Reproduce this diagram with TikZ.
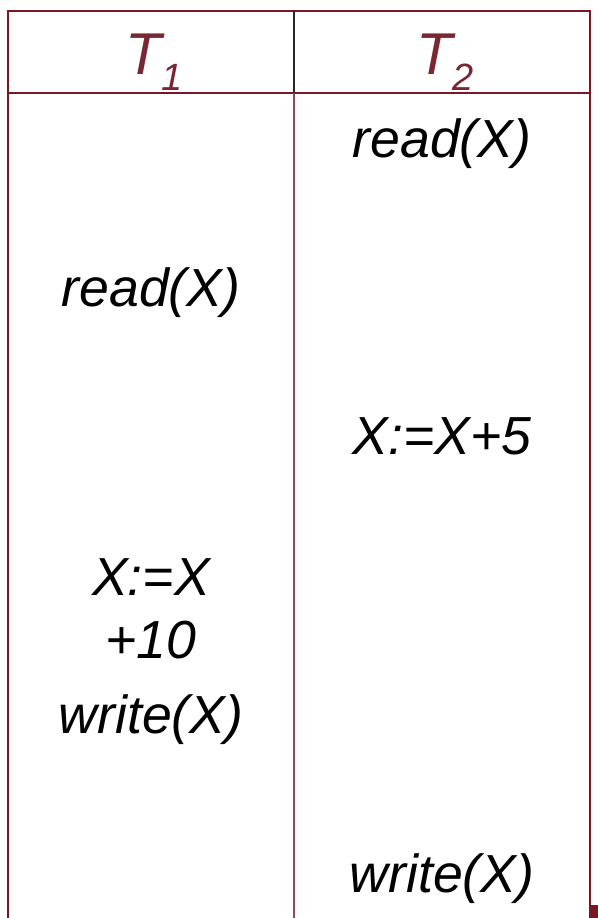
\documentclass[tikz,border=0pt]{standalone}
\usepackage{fontspec}
\setmainfont{Liberation Sans}
\usetikzlibrary{positioning}

\definecolor{tablered}{RGB}{122,22,38}
\definecolor{midred}{RGB}{150,70,85}
\definecolor{headred}{RGB}{123,38,51}
\definecolor{sepgray}{RGB}{40,40,40}

\begin{document}
\begin{tikzpicture}[
        x=0.5pt, y=0.5pt,
        rule/.style = {draw=tablered, line width=1.1pt},
        head/.style = {anchor=base, text=headred, font=\fontsize{29.5}{30}\selectfont\itshape},
        cell/.style = {anchor=base, font=\fontsize{26.8}{31.5}\selectfont\itshape}
    ]
        \useasboundingbox (0,0) rectangle (598,-918);

        % Table rules
        \draw[rule] (8,-918) -- (8,-11) -- (590,-11) -- (590,-918);
        \draw[rule] (8,-93) -- (590,-93);
        \draw[line width=1.1pt, draw=sepgray] (294,-11) -- (294,-93);
        \draw[rule, draw=midred] (294,-93) -- (294,-918);
        \fill[tablered] (590,-905) rectangle (598,-918);

        % Header
        \node[head] (t1) at (154,-74) {T\raisebox{-8pt}{\fontsize{19}{20}\selectfont 1}};
        \node[head] (t2) at (445,-74) {T\raisebox{-8pt}{\fontsize{19}{20}\selectfont 2}};

        % Schedule of T1
        \node[cell] (read1) at (151,-306) {read(X)};
        \node[cell] (add1a) at (151,-595) {X:=X};
        \node[cell] (add1b) at (151,-658) {+10};
        \node[cell] (write1) at (151,-733) {write(X)};

        % Schedule of T2
        \node[cell] (read2) at (442,-157) {read(X)};
        \node[cell] (add2) at (442,-454) {X:=X+5};
        \node[cell] (write2) at (442,-892) {write(X)};
    \end{tikzpicture}
\end{document}
